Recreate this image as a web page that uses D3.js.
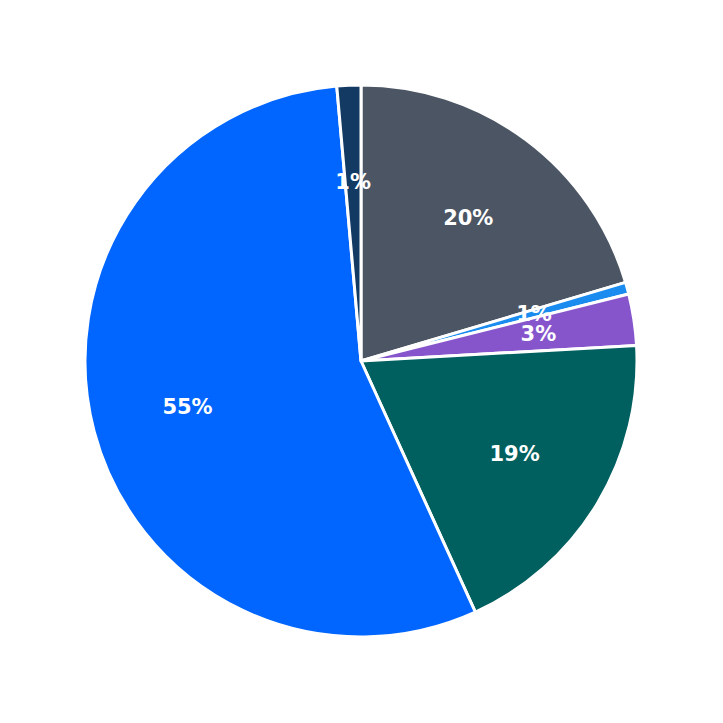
<!DOCTYPE html>
<html><head><meta charset="utf-8">
<script src="https://cdn.jsdelivr.net/npm/d3@7"></script>
<style>body{margin:0;background:#fff}</style>
</head><body>
<svg id="chart" width="723" height="723"></svg>
<script>
// slice data, clockwise from 12 o'clock
var labels = ["A", "B", "C", "D", "E", "F"];
var values = [20.4, 0.7, 3.0, 19.1, 55.4, 1.4];
var colors = ["#4b5563", "#1a8cf0", "#8655cc", "#006060", "#0066ff", "#133a63"];

var cx = 361, cy = 361, radius = 276;
var svg = d3.select("#chart");
var g = svg.append("g").attr("transform", "translate(" + cx + "," + cy + ")");

var pie = d3.pie().sort(null).value(d => d);
var arcs = pie(values);
var arc = d3.arc().innerRadius(0).outerRadius(radius);
var labelArc = d3.arc().innerRadius(radius * 0.65).outerRadius(radius * 0.65);

g.selectAll("path").data(arcs).enter().append("path")
  .attr("d", arc)
  .attr("fill", (d, i) => colors[i])
  .attr("stroke", "#fff")
  .attr("stroke-width", 3)
  .attr("stroke-linejoin", "round");

g.selectAll("text").data(arcs).enter().append("text")
  .attr("transform", d => "translate(" + labelArc.centroid(d) + ")")
  .attr("text-anchor", "middle")
  .attr("dy", "0.35em")
  .attr("fill", "#fff")
  .style("font-family", "DejaVu Sans, sans-serif")
  .style("font-weight", "bold")
  .style("font-size", "21px")
  .text(d => Math.max(1, Math.round(d.data)) + "%");
</script>
</body></html>
